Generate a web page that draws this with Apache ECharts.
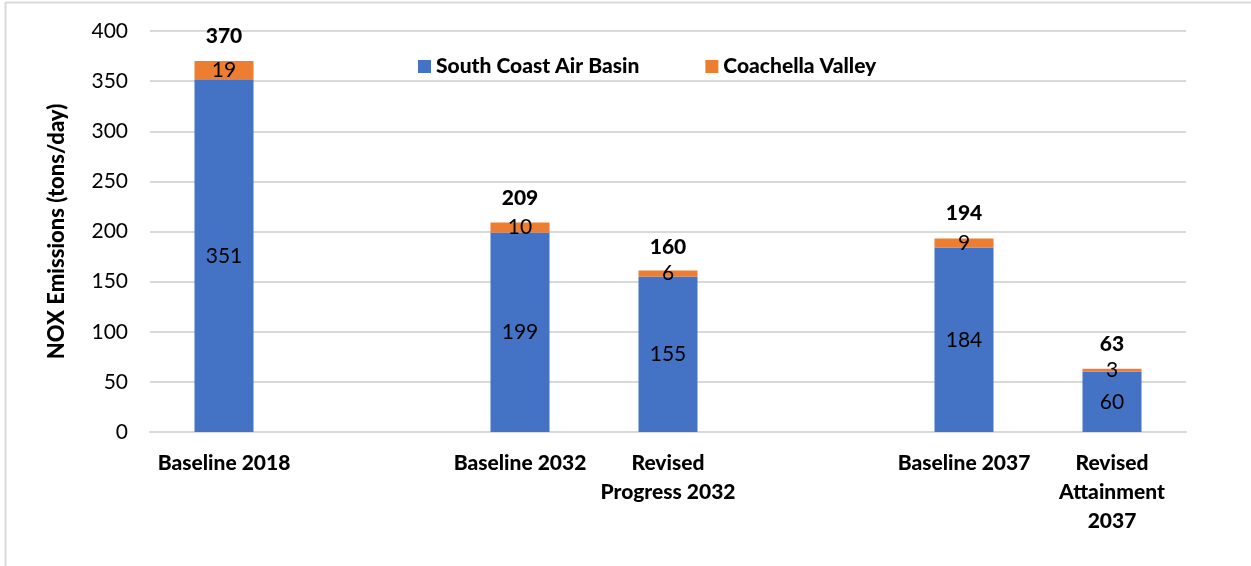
<!DOCTYPE html>
<html>
<head>
<meta charset="utf-8">
<script src="https://cdn.jsdelivr.net/npm/echarts@6/dist/echarts.min.js"></script>
<style>
html,body{margin:0;padding:0;background:#fff;}
#chart{width:1251px;height:566px;}
</style>
</head>
<body>
<div id="chart"></div>
<script>
const categories = ['Baseline 2018', '', 'Baseline 2032', 'Revised\nProgress 2032', '', 'Baseline 2037', 'Revised\nAttainment\n2037'];
const southCoast = [351, null, 199, 155, null, 184, 60];
const coachella = [19, null, 10, 6, null, 9, 3];
const totals = [370, null, 209, 160, null, 194, 63];
const yTicks = { min: 0, max: 400, interval: 50 };

const FONT = 'Lato';
const BOLD = 900;
const chart = echarts.init(document.getElementById('chart'), null, { renderer: 'canvas' });

chart.setOption({
  animation: false,
  backgroundColor: '#fff',
  textStyle: { fontFamily: FONT },
  graphic: [
    { type: 'line', shape: { x1: 6, y1: 2.5, x2: 1251, y2: 2.5 }, style: { stroke: '#d9d9d9', lineWidth: 2 } },
    { type: 'line', shape: { x1: 5.5, y1: 2, x2: 5.5, y2: 566 }, style: { stroke: '#d9d9d9', lineWidth: 2 } }
  ],
  legend: {
    data: ['South Coast Air Basin', 'Coachella Valley'],
    left: 413, top: 51,
    itemWidth: 13, itemHeight: 13, itemGap: 66,
    icon: 'rect',
    textStyle: { fontFamily: FONT, fontWeight: BOLD, fontSize: 21, color: '#000', padding: [0, 0, 0, 0] }
  },
  grid: { left: 150, right: 65, top: 31, bottom: 134, containLabel: false },
  xAxis: {
    type: 'category',
    data: categories,
    axisTick: { show: false },
    axisLine: { lineStyle: { color: '#d9d9d9', width: 2 } },
    axisLabel: {
      interval: 0, margin: 17,
      fontFamily: FONT, fontWeight: BOLD, fontSize: 21, color: '#000', lineHeight: 29
    }
  },
  yAxis: {
    type: 'value',
    min: yTicks.min, max: yTicks.max, interval: yTicks.interval,
    name: 'NOX Emissions (tons/day)',
    nameLocation: 'middle', nameGap: 82,
    nameTextStyle: { fontFamily: FONT, fontWeight: BOLD, fontSize: 22, color: '#000' },
    axisLine: { show: false },
    axisTick: { show: false },
    axisLabel: { fontFamily: FONT, fontSize: 21, color: '#000', margin: 22 },
    splitLine: { lineStyle: { color: '#d9d9d9', width: 2 } }
  },
  series: [
    {
      name: 'South Coast Air Basin', type: 'bar', stack: 'total', barWidth: 59,
      data: southCoast,
      itemStyle: { color: '#4472C4' },
      label: { show: true, position: 'inside', fontFamily: FONT, fontSize: 21, color: '#000' }
    },
    {
      name: 'Coachella Valley', type: 'bar', stack: 'total', barWidth: 59,
      data: coachella,
      itemStyle: { color: '#ED7D31' },
      label: { show: true, position: 'inside', fontFamily: FONT, fontSize: 21, color: '#000' }
    },
    {
      name: 'Total', type: 'bar', barWidth: 59, barGap: '-100%',
      data: totals, silent: true,
      itemStyle: { color: 'rgba(0,0,0,0)' },
      label: { show: true, position: 'top', distance: 14, fontFamily: FONT, fontWeight: BOLD, fontSize: 21, color: '#000' },
      z: 1
    }
  ]
});
</script>
</body>
</html>
